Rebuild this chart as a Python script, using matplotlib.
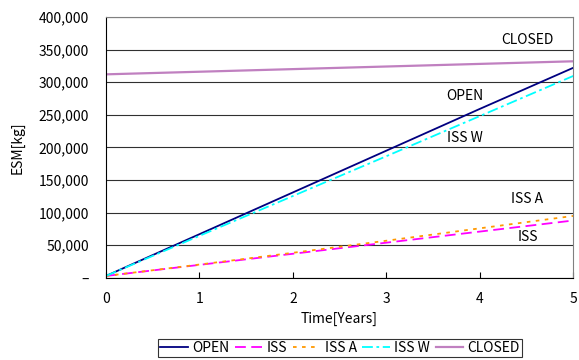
import numpy as np
import matplotlib.pyplot as plt
from matplotlib.ticker import FuncFormatter

plt.rcParams['font.family'] = ['Noto Sans CJK JP', 'DejaVu Sans']

years = [0, 1, 2, 3, 4, 5]
open_esm = [3000, 67000, 131000, 195000, 259000, 322000]
iss_esm = [3000, 20000, 37000, 54000, 71000, 88000]
iss_a_esm = [3000, 20500, 38500, 57000, 76000, 95000]
iss_w_esm = [3000, 64500, 125500, 186500, 248000, 309500]
closed_esm = [312000, 316000, 320000, 324000, 328000, 332000]

fig = plt.figure(figsize=(5.79, 3.6), dpi=100)
ax = fig.add_axes([0.183, 0.228, 0.807, 0.725])

ax.plot(years, open_esm, color='#000080', lw=1.3, label='OPEN')
ax.plot(years, iss_esm, color='#FF00FF', lw=1.3, dashes=(6, 3), label='ISS')
ax.plot(years, iss_a_esm, color='#FF9900', lw=1.3, dashes=(2, 3), label='ISS A')
ax.plot(years, iss_w_esm, color='#00FFFF', lw=1.3, dashes=(6, 2, 1.5, 2), label='ISS W')
ax.plot(years, closed_esm, color='#C080C0', lw=1.6, label='CLOSED')

# labels on the lines
fs = 10
ax.text(4.51, 365000, 'CLOSED', ha='center', va='center', fontsize=fs)
ax.text(3.84, 279000, 'OPEN', ha='center', va='center', fontsize=fs)
ax.text(3.84, 214500, 'ISS W', ha='center', va='center', fontsize=fs)
ax.text(4.51, 121000, 'ISS A', ha='center', va='center', fontsize=fs)
ax.text(4.51, 62500, 'ISS', ha='center', va='center', fontsize=fs)

ax.set_xlim(0, 5)
ax.set_ylim(0, 400000)
ax.set_xticks(years)
ax.set_yticks(np.arange(0, 400001, 50000))
ax.yaxis.set_major_formatter(FuncFormatter(lambda v, p: '–' if v == 0 else f'{int(v):,}'))
ax.grid(axis='y', color='#303030', lw=0.8)
ax.set_axisbelow(True)
ax.tick_params(axis='x', direction='in', length=4, labelsize=fs, pad=10)
ax.tick_params(axis='y', length=0, labelsize=fs, pad=12)
ax.spines['top'].set_color('#808080')
ax.spines['right'].set_color('#808080')

ax.set_xlabel('Time[Years]', fontsize=fs, labelpad=4)
ax.set_ylabel('ESM[kg]', fontsize=fs, labelpad=10)

leg = fig.legend(loc='center', bbox_to_anchor=(0.587, 0.033), ncol=5, fontsize=fs,
                 frameon=True, fancybox=False, edgecolor='black', handlelength=2.0,
                 handletextpad=0.3, columnspacing=0.4, borderpad=0.15)
leg.get_frame().set_linewidth(0.8)

fig.savefig('out.png', dpi=100)
